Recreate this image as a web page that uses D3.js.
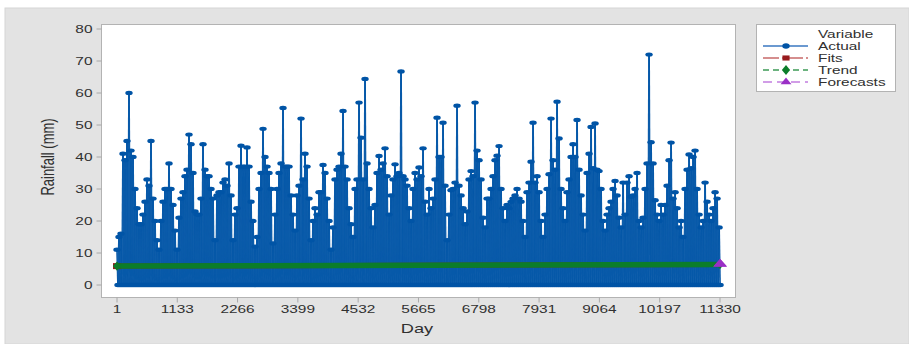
<!DOCTYPE html>
<html>
<head>
<meta charset="utf-8">
<script src="https://cdn.jsdelivr.net/npm/d3@7"></script>
<style>
  html, body { margin: 0; padding: 0; background: #fff; }
  svg { display: block; font-family: "Liberation Sans", Arial, sans-serif; }
</style>
</head>
<body>
<svg id="chart" width="909" height="344"></svg>
<script>
// ---- data -------------------------------------------------------------
const xTicks = [1, 1133, 2266, 3399, 4532, 5665, 6798, 7931, 9064, 10197, 11330];
const yTicks = [0, 10, 20, 30, 40, 50, 60, 70, 80];

// Wet-day rainfall readings (mm), one every sampleStep days from day 1
const rainfall = [
  11, 15, 16, 41, 39, 45, 60, 42, 40, 30, 24, 19, 19, 22, 26, 33, 31, 45, 27, 20,
  14, 11, 20, 26, 30, 30, 38, 30, 25, 17, 11, 21, 27, 29, 34, 36, 47, 44, 35, 23,
  22, 22, 27, 44,
  36, 34, 34, 30, 27, 14, 28, 29, 29, 32, 33, 31, 38, 28, 14, 22, 24, 37, 43.5, 37,
  37, 43, 37, 26, 20, 12, 15, 30, 35, 48.8, 40, 37, 35, 30, 13, 22, 30, 35, 38, 55.3,
  37, 37, 37, 28, 22, 17, 28, 31, 52, 33, 41, 37, 27,
  14, 20, 24, 22, 29, 29, 37.5, 35, 27, 20, 11, 18, 33, 36, 37, 41, 54.4, 37, 33, 24,
  19, 15, 30, 33, 57, 46, 33, 64.4, 38, 30, 24, 18, 25, 35, 40.3, 36, 38, 42.7, 34, 22,
  28, 33, 37.7, 34, 35, 66.7, 34, 33, 31, 24, 20, 30,
  35, 33, 36.7, 34, 42.7, 26, 22, 30, 24, 27, 33, 52.3, 40, 40, 50.7, 31, 14, 22, 29.6, 30,
  32, 56, 31, 28, 24, 19, 23, 33, 35.6, 34, 57, 42, 39, 33, 21, 18, 27, 27, 30, 34,
  39, 40.4, 43.4, 30, 24, 20, 25, 24, 26, 27, 28, 30, 27,
  26, 20, 15, 29, 32, 38.5, 50.7, 32, 34, 29, 20, 15, 22, 30, 34.6, 52, 39, 36, 57.3, 45.8,
  30, 24, 20, 29, 33, 40, 44, 40, 51.6, 36, 28, 22, 17, 35, 41, 49.4, 36.5, 50.5, 36, 35.6,
  30, 20, 17, 22, 24, 26, 30, 32.5, 28, 21, 18,
  32, 22, 32, 34, 27.6, 28, 30, 35, 20, 18, 21, 30, 38, 72, 44.6, 38, 26.5, 22, 20, 25,
  22, 25, 31, 39, 44.5, 27, 29, 24, 18, 20, 15, 30, 36, 40.8, 36.5, 40, 42, 30, 22, 18,
  20, 32, 26, 22, 20, 24, 29, 27, 18
];
const sampleStep = 37.58;   // days between successive wet-day readings
const dryDayMm = 0;         // reading on the dry day between them

const fitDays = [1, 11330];
const fitMm = [5.9, 6.4];
const trendDays = [1, 11330];
const trendMm = [5.9, 6.4];
const forecastDays = [11331, 11332, 11333];
const forecastMm = [6.4, 6.4, 6.4];

const legendTitle = "Variable";
const legendLabels = ["Actual", "Fits", "Trend", "Forecasts"];

// ---- colours ----------------------------------------------------------
const C = {
  actual: "#0054a6", actualLine: "#3a77c0",
  fits: "#981b1e", fitsLine: "#c86a6a",
  trend: "#0b7d2a", trendLine: "#3d9a55",
  fore: "#9a2fc6", foreLine: "#c27ee0",
  text: "#303030", axis: "#a8a8a8"
};
const SX = 1.4; // horizontal text / marker stretch

// ---- scales -----------------------------------------------------------
const svg = d3.select("#chart");
const x = d3.scaleLinear().domain([1, 11330]).range([117, 720]);
const y = d3.scaleLinear().domain([0, 80]).range([285, 29]);
const frame = { left: 101.5, top: 24.5, right: 735.5, bottom: 297.5 };

// ---- backgrounds ------------------------------------------------------
svg.append("rect").attr("x", 5).attr("y", 8).attr("width", 904).attr("height", 336)
  .attr("fill", "#e3e3e3").attr("stroke", "#d6d6d6");
svg.append("rect").attr("x", frame.left).attr("y", frame.top)
  .attr("width", frame.right - frame.left).attr("height", frame.bottom - frame.top)
  .attr("fill", "#fff").attr("stroke", "#b3b3b3");

function stretchedText(parent, px, py, str, size, anchor) {
  return parent.append("text")
    .attr("transform", `translate(${px},${py}) scale(${SX},1)`)
    .attr("text-anchor", anchor)
    .attr("font-size", size)
    .attr("fill", C.text)
    .text(str);
}

// ---- axes -------------------------------------------------------------
const axes = svg.append("g");
yTicks.forEach(t => {
  axes.append("line").attr("x1", frame.left - 5).attr("x2", frame.left)
    .attr("y1", y(t)).attr("y2", y(t)).attr("stroke", C.axis);
  stretchedText(axes, frame.left - 9, y(t) + 4, d3.format("d")(t), 11, "end");
});
xTicks.forEach(t => {
  axes.append("line").attr("x1", x(t)).attr("x2", x(t))
    .attr("y1", frame.bottom).attr("y2", frame.bottom + 5).attr("stroke", C.axis);
  stretchedText(axes, x(t), 313, String(t), 11, "middle");
});
stretchedText(axes, 417, 333, "Day", 13, "middle");
axes.append("text")
  .attr("transform", `translate(54,157) scale(${SX},1) rotate(-90)`)
  .attr("text-anchor", "middle").attr("font-size", 13).attr("fill", C.text)
  .text("Rainfall (mm)");

// ---- Actual series ----------------------------------------------------
const actualPts = [];
rainfall.forEach((v, i) => {
  const d = 1 + i * sampleStep;
  actualPts.push([d, v]);
  actualPts.push([d + sampleStep / 2, dryDayMm]);
});
const plot = svg.append("g");
plot.append("g").selectAll("line").data(d3.pairs(actualPts)).join("line")
  .attr("x1", p => x(p[0][0])).attr("y1", p => y(p[0][1]))
  .attr("x2", p => x(p[1][0])).attr("y2", p => y(p[1][1]))
  .attr("stroke", C.actual).attr("stroke-width", 1.8).attr("stroke-opacity", 0.9);
plot.append("g").selectAll("ellipse").data(actualPts).join("ellipse")
  .attr("cx", p => x(p[0])).attr("cy", p => y(p[1]))
  .attr("rx", 3.7).attr("ry", 2.2).attr("fill", C.actual);

// ---- Fits, Trend, Forecasts --------------------------------------------
const line = d3.line().x(p => x(p[0])).y(p => y(p[1]));
const fitPts = fitDays.map((d, i) => [d, fitMm[i]]);
const trendPts = trendDays.map((d, i) => [d, trendMm[i]]);
const forePts = forecastDays.map((d, i) => [d, forecastMm[i]]);

plot.append("path").datum(fitPts).attr("d", line)
  .attr("fill", "none").attr("stroke", C.fits).attr("stroke-width", 5);
plot.selectAll(".fitm").data(fitPts.slice(0, 1)).join("rect")
  .attr("x", p => x(p[0]) - 4).attr("y", p => y(p[1]) - 3)
  .attr("width", 8).attr("height", 6).attr("fill", C.fits);

plot.append("path").datum(trendPts).attr("d", line)
  .attr("fill", "none").attr("stroke", C.trend).attr("stroke-width", 5.5);
const diamond = d3.symbol().type(d3.symbolDiamond).size(30);
plot.selectAll(".trm").data(trendPts).join("path")
  .attr("transform", p => `translate(${x(p[0])},${y(p[1])}) scale(${SX},0.9)`)
  .attr("d", diamond).attr("fill", C.trend);

const tri = d3.symbol().type(d3.symbolTriangle).size(40);
plot.selectAll(".fcm").data(forePts).join("path")
  .attr("transform", p => `translate(${x(p[0])},${y(p[1]) - 0.5}) scale(${SX},0.9)`)
  .attr("d", tri).attr("fill", C.fore);

// ---- legend -----------------------------------------------------------
const lg = svg.append("g");
lg.append("rect").attr("x", 756.5).attr("y", 24.5).attr("width", 139).attr("height", 67)
  .attr("fill", "#fff").attr("stroke", "#b3b3b3");
stretchedText(lg, 818, 38, legendTitle, 11, "start");
const styles = [
  { col: C.actual, lcol: C.actualLine, dash: null, sym: d3.symbolCircle, size: 22 },
  { col: C.fits, lcol: C.fitsLine, dash: "16 3 2 3", sym: d3.symbolSquare, size: 26 },
  { col: C.trend, lcol: C.trendLine, dash: "6 4", sym: d3.symbolDiamond, size: 30 },
  { col: C.fore, lcol: C.foreLine, dash: "9 5", sym: d3.symbolTriangle, size: 26 }
];
legendLabels.forEach((lab, i) => {
  const cy = 46 + i * 12;
  const s = styles[i];
  lg.append("line").attr("x1", 763).attr("x2", 808).attr("y1", cy).attr("y2", cy)
    .attr("stroke", s.lcol).attr("stroke-width", 1.3)
    .attr("stroke-dasharray", s.dash);
  lg.append("path").attr("transform", `translate(786,${cy}) scale(${SX},1)`)
    .attr("d", d3.symbol().type(s.sym).size(s.size)).attr("fill", s.col);
  stretchedText(lg, 818, cy + 4, lab, 11, "start");
});
</script>
</body>
</html>
